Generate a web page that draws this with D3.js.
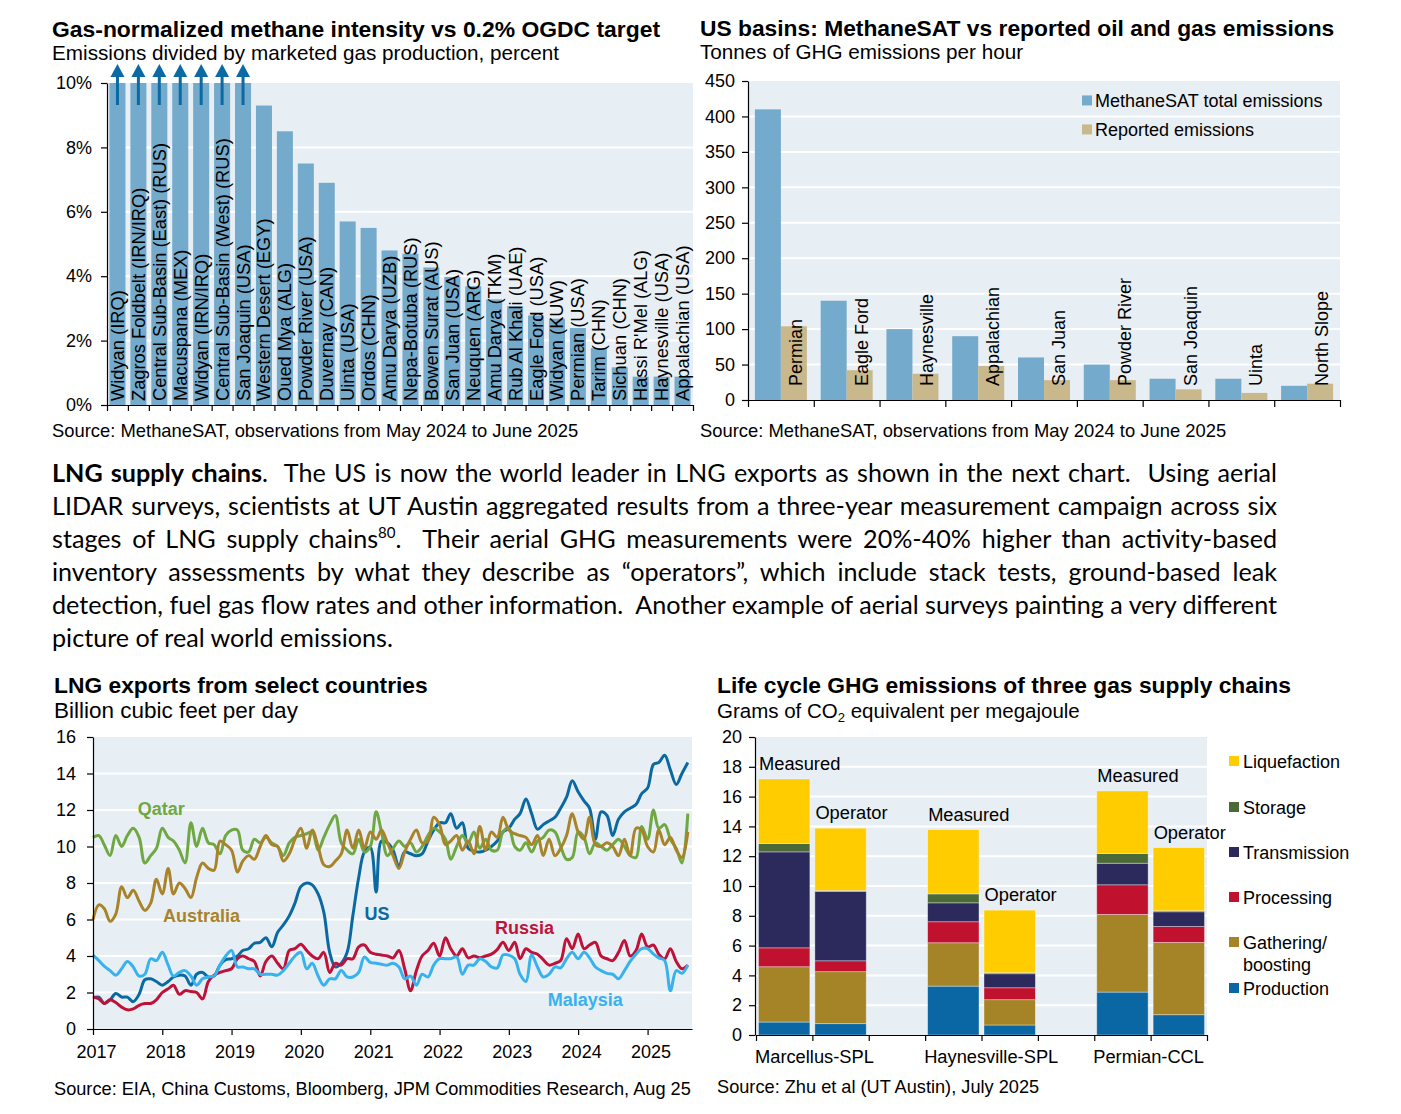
<!DOCTYPE html>
<html><head><meta charset="utf-8">
<script src="https://cdn.jsdelivr.net/npm/d3@7"></script>
<style>
body{margin:0;background:#fff;}
svg{display:block;}
text{font-family:"Liberation Sans",Arial,sans-serif;}
.para{font-family:Lato,"Open Sans",sans-serif;white-space:pre;}
</style></head><body>
<svg id="c" width="1401" height="1114"></svg>
<script>
// ---------------- DATA ----------------
// Chart 1: gas-normalized methane intensity (%), first seven are above the 10% axis cap
const basins1 = ["Widyan (IRQ)","Zagros Foldbelt (IRN/IRQ)","Central Sub-Basin (East) (RUS)","Macuspana (MEX)","Widyan (IRN/IRQ)","Central Sub-Basin (West) (RUS)","San Joaquin (USA)","Western Desert (EGY)","Oued Mya (ALG)","Powder River (USA)","Duvernay (CAN)","Uinta (USA)","Ordos (CHN)","Amu Darya (UZB)","Nepa-Botuba (RUS)","Bowen Surat (AUS)","San Juan (USA)","Neuquen (ARG)","Amu Darya (TKM)","Rub Al Khali (UAE)","Eagle Ford (USA)","Widyan (KUW)","Permian (USA)","Tarim (CHN)","Sichuan (CHN)","Hassi R'Mel (ALG)","Haynesville (USA)","Appalachian (USA)"];
const intensity = [10,10,10,10,10,10,10,9.3,8.5,7.5,6.9,5.7,5.5,4.8,4.7,4.27,3.98,3.69,3.28,3.07,2.78,2.68,2.39,1.77,1.17,0.88,0.88,0.88];
const aboveCap = [true,true,true,true,true,true,true,false,false,false,false,false,false,false,false,false,false,false,false,false,false,false,false,false,false,false,false,false];
const pctTicks = [0,2,4,6,8,10];

// Chart 2: US basins, tonnes GHG per hour
const usBasins = ["Permian","Eagle Ford","Haynesville","Appalachian","San Juan","Powder River","San Joaquin","Uinta","North Slope"];
const methaneSAT = [410,140,100,90,60,50,30,30,20];
const reported = [104,42,37,48,28,28,15,10,23];
const tphTicks = [0,50,100,150,200,250,300,350,400,450];

// Chart 3: LNG exports, Bcf/d, monthly Jan 2017 - Aug 2025
const lngYears = [2017,2018,2019,2020,2021,2022,2023,2024,2025];
const bcfTicks = [0,2,4,6,8,10,12,14,16];
const qatar = [10.5,10.6,10.1,9.5,10.6,10.0,10.6,11.0,10.5,9.1,9.5,9.9,
 11.0,10.5,10.3,9.8,9.1,11.3,10.0,11.0,10.2,10.1,9.6,10.6,
 10.9,10.9,9.8,9.7,10.4,10.2,10.5,10.2,10.0,9.5,10.2,10.5,
 10.6,10.7,10.8,9.8,10.5,11.2,11.7,10.2,9.8,9.6,10.4,9.7,
 10.0,11.9,10.8,9.5,9.9,10.3,10.0,10.2,9.7,10.0,10.6,11.0,
 10.8,10.4,9.3,10.0,10.6,10.2,10.8,9.9,10.4,9.8,9.8,10.8,
 11.0,10.0,9.8,10.2,9.7,10.3,10.5,10.9,10.8,10.0,9.3,9.4,
 10.8,10.5,9.6,10.2,10.0,9.8,10.1,10.4,10.0,9.5,9.4,11.1,
 10.4,12.0,11.0,11.2,10.4,9.9,9.1,11.8];
const australia = [6.0,6.8,6.6,5.9,6.3,7.8,7.2,7.6,7.0,6.5,6.9,8.2,
 7.4,8.8,7.4,8.0,7.7,7.2,8.3,9.1,8.8,8.7,10.3,10.1,
 9.8,8.6,9.2,9.5,9.3,10.0,10.6,10.1,10.0,9.2,9.6,10.4,
 11.0,9.9,10.9,10.0,9.0,8.9,9.2,9.6,10.9,9.9,10.9,9.9,
 10.8,10.4,10.9,10.2,9.5,8.8,9.7,10.4,10.9,10.2,10.3,11.6,
 11.2,10.1,10.3,10.6,9.8,10.3,9.6,11.1,9.8,10.8,10.5,11.6,
 10.9,10.7,10.6,10.5,10.1,10.6,9.5,10.4,9.5,9.9,10.6,11.8,
 10.8,10.4,11.6,10.1,10.0,10.2,10.0,9.5,10.4,9.5,11.0,10.9,
 10.0,9.7,10.9,10.1,10.5,9.8,9.4,10.8];
const us = [1.7,1.75,1.4,1.6,1.95,1.75,1.75,1.5,1.9,2.7,2.75,2.6,
 2.4,2.6,2.85,2.95,2.9,2.4,3.0,3.1,2.85,2.9,3.5,3.8,
 3.85,4.0,4.3,4.4,4.7,4.75,5.0,4.5,5.3,5.7,6.2,6.9,
 7.8,8.0,7.9,7.4,6.4,4.2,3.4,3.6,4.2,6.2,8.3,9.7,
 9.95,7.5,10.3,10.2,9.8,8.9,9.7,9.6,9.5,9.6,10.3,10.9,
 11.3,11.3,11.8,11.0,11.3,9.9,9.75,9.7,9.8,10.0,10.3,10.8,
 11.0,11.5,11.8,12.6,11.8,10.95,11.2,11.4,11.6,12.1,12.7,13.6,
 13.0,12.5,12.1,10.4,11.9,11.7,10.6,11.5,11.9,12.1,12.3,12.9,
 13.2,14.5,14.6,15.0,14.2,13.4,14.0,14.6];
const russia = [1.75,1.65,1.4,1.6,1.45,1.2,1.05,1.1,1.3,1.4,1.4,1.6,
 2.0,2.2,2.4,1.9,2.1,2.05,2.0,1.65,2.6,2.95,3.1,3.2,
 3.3,3.85,4.0,3.85,3.7,2.9,3.7,4.0,3.6,3.3,4.3,4.4,
 4.65,4.3,4.0,3.85,4.2,3.1,3.6,3.5,3.85,3.85,4.5,4.6,
 4.2,4.1,4.05,4.0,3.9,4.3,3.3,2.1,3.2,4.0,4.3,4.7,
 4.0,5.0,4.4,4.0,4.4,3.9,4.0,3.9,4.0,4.1,4.35,4.75,
 4.3,4.75,3.85,4.4,4.2,4.1,3.8,3.5,3.6,3.75,4.95,4.4,
 5.2,4.4,4.6,4.75,4.0,3.85,3.75,4.2,4.85,4.0,4.3,5.2,
 4.5,4.6,4.1,3.85,4.4,3.7,3.3,3.5];
const malaysia = [4.05,3.75,3.45,3.2,2.95,3.3,3.7,3.4,2.9,3.0,3.85,3.75,
 4.2,3.5,2.9,3.1,3.2,2.9,2.4,2.75,2.85,2.9,3.5,4.0,
 4.3,3.4,3.4,3.3,3.3,3.0,3.0,3.0,2.95,3.2,3.6,4.0,
 4.2,3.3,3.6,2.9,2.4,2.75,2.75,3.2,2.85,2.85,3.1,3.95,
 3.65,3.6,3.55,3.5,3.6,3.4,2.75,2.9,2.4,3.0,2.85,3.5,
 3.85,3.85,3.85,3.95,3.0,3.5,3.5,3.85,3.7,3.4,3.35,4.05,
 4.05,3.85,3.0,2.6,4.05,3.4,2.85,3.0,3.4,3.35,3.85,4.2,
 3.85,4.2,3.9,3.4,3.2,3.05,3.0,2.75,3.2,3.7,4.1,4.4,
 4.4,4.1,3.9,3.75,2.1,3.2,3.05,3.5];

// Chart 4: life cycle GHG, g CO2e/MJ; bars: Marcellus Meas/Op, Haynesville Meas/Op, Permian Meas/Op
const chains = ["Marcellus-SPL","Haynesville-SPL","Permian-CCL"];
const methods = ["Measured","Operator"];
const stages = ["Production","Gathering/ boosting","Processing","Transmission","Storage","Liquefaction"];
const production   = [0.87,0.76,3.28,0.67,2.88,1.36];
const gathering    = [3.71,3.49,2.91,1.70,5.21,4.85];
const processing   = [1.27,0.73,1.41,0.80,1.99,1.07];
const transmission = [6.44,4.65,1.27,0.94,1.45,0.99];
const storage      = [0.56,0.07,0.60,0.07,0.65,0.07];
const liquefaction = [4.33,4.18,4.32,4.20,4.20,4.24];
const gTicks = [0,2,4,6,8,10,12,14,16,18,20];

// ---------------- DRAWING ----------------
const svg = d3.select("#c");
const BG = "#E7EEF4", FONT = '"Liberation Sans", Arial, sans-serif';
const BAR = "#74AACB", TAN = "#C9B88C";

function txt(g, x, y, s, o = {}) {
  return g.append("text").attr("x", x).attr("y", y).text(s)
    .attr("font-size", o.size || 18).attr("font-weight", o.bold ? "bold" : null)
    .attr("fill", o.fill || "#000").attr("text-anchor", o.anchor || "start");
}
function styleAxis(g, size) {
  g.attr("font-size", size || 18).attr("font-family", FONT);
  g.selectAll("path.domain").attr("stroke", "#000").attr("stroke-width", 1.2);
  g.selectAll(".tick line").attr("stroke", "#000").attr("stroke-width", 1.2);
  g.selectAll(".tick text").attr("fill", "#000");
}
function grid(g, yScale, vals, x0, x1) {
  g.selectAll(null).data(vals).join("line")
    .attr("x1", x0).attr("x2", x1).attr("y1", d => yScale(d)).attr("y2", d => yScale(d))
    .attr("stroke", "#fff").attr("stroke-width", 2);
}

// ===== Chart 1 =====
(function(){
  const g = svg.append("g");
  const L = 107, R = 693, T = 83, B = 405;
  txt(g, 52, 37, "Gas-normalized methane intensity vs 0.2% OGDC target", {size: 22.9, bold: true});
  txt(g, 52, 60, "Emissions divided by marketed gas production, percent", {size: 20.7});
  const y = d3.scaleLinear().domain([0, 10]).range([B, T]);
  const x = d3.scaleBand().domain(basins1).range([L, R]).paddingInner(0.235).paddingOuter(0.1175);
  g.append("rect").attr("x", L).attr("y", T).attr("width", R - L).attr("height", B - T).attr("fill", BG);
  grid(g, y, [2, 4, 6, 8], L, R);
  g.selectAll(null).data(basins1).join("rect")
    .attr("x", d => x(d)).attr("width", x.bandwidth())
    .attr("y", (d, i) => y(Math.min(intensity[i], 10))).attr("height", (d, i) => y(0) - y(Math.min(intensity[i], 10)))
    .attr("fill", BAR);
  g.selectAll(null).data(basins1).join("text")
    .attr("transform", d => `translate(${x(d) + x.bandwidth() / 2 + 6.5},${y(0) - 4}) rotate(-90)`)
    .attr("font-size", 18.3).text(d => d);
  // arrows for values above the axis cap
  const ag = g.append("g").attr("fill", "#0B6AA3").attr("stroke", "#0B6AA3");
  basins1.forEach((d, i) => {
    if (!aboveCap[i]) return;
    const cx = x(d) + x.bandwidth() / 2;
    ag.append("line").attr("x1", cx).attr("x2", cx).attr("y1", y(10) + 22).attr("y2", y(10) - 8).attr("stroke-width", 3);
    ag.append("path").attr("stroke", "none")
      .attr("d", `M${cx},${y(10) - 19}L${cx - 7},${y(10) - 6}L${cx + 7},${y(10) - 6}Z`);
  });
  const ya = g.append("g").attr("transform", `translate(${L},0)`)
    .call(d3.axisLeft(y).tickValues(pctTicks).tickFormat(d => d + "%").tickSize(6).tickSizeOuter(0).tickPadding(9));
  styleAxis(ya);
  const xi = d3.scaleLinear().domain([0, basins1.length]).range([L, R]);
  const xa = g.append("g").attr("transform", `translate(0,${B})`)
    .call(d3.axisBottom(xi).tickValues(d3.range(basins1.length + 1)).tickFormat("").tickSize(6).tickSizeOuter(0));
  styleAxis(xa);
  txt(g, 52, 437, "Source: MethaneSAT, observations from May 2024 to June 2025", {size: 18.4});
})();

// ===== Chart 2 =====
(function(){
  const g = svg.append("g");
  const L = 748, R = 1340, T = 81, B = 400;
  txt(g, 700, 36, "US basins: MethaneSAT vs reported oil and gas emissions", {size: 22.8, bold: true});
  txt(g, 700, 59, "Tonnes of GHG emissions per hour", {size: 20.7});
  const y = d3.scaleLinear().domain([0, 450]).range([B, T]);
  const x = d3.scaleBand().domain(usBasins).range([L, R]);
  const xs = d3.scaleBand().domain(["sat", "rep"]).range([0, x.bandwidth()]).paddingOuter(0.265);
  g.append("rect").attr("x", L).attr("y", T).attr("width", R - L).attr("height", B - T).attr("fill", BG);
  grid(g, y, tphTicks.slice(1, -1), L, R);
  g.selectAll(null).data(usBasins).join("rect")
    .attr("x", d => x(d) + xs("sat")).attr("width", xs.bandwidth())
    .attr("y", (d, i) => y(methaneSAT[i])).attr("height", (d, i) => y(0) - y(methaneSAT[i])).attr("fill", BAR);
  g.selectAll(null).data(usBasins).join("rect")
    .attr("x", d => x(d) + xs("rep")).attr("width", xs.bandwidth())
    .attr("y", (d, i) => y(reported[i])).attr("height", (d, i) => y(0) - y(reported[i])).attr("fill", TAN);
  g.selectAll(null).data(usBasins).join("text")
    .attr("transform", d => `translate(${x(d) + xs("rep") + xs.bandwidth() / 2 + 8},${y(0) - 14}) rotate(-90)`)
    .attr("font-size", 18).text(d => d);
  const ya = g.append("g").attr("transform", `translate(${L},0)`)
    .call(d3.axisLeft(y).tickValues(tphTicks).tickSize(6).tickSizeOuter(0).tickPadding(7));
  styleAxis(ya);
  const xi = d3.scaleLinear().domain([0, usBasins.length]).range([L, R]);
  const xa = g.append("g").attr("transform", `translate(0,${B})`)
    .call(d3.axisBottom(xi).tickValues(d3.range(usBasins.length + 1)).tickFormat("").tickSize(7).tickSizeOuter(0));
  styleAxis(xa);
  // legend
  const leg = [["MethaneSAT total emissions", BAR], ["Reported emissions", TAN]];
  leg.forEach((d, i) => {
    const cy = y(400) - 16 + i * 29;
    g.append("rect").attr("x", 1082).attr("y", cy - 5).attr("width", 10).attr("height", 10).attr("fill", d[1]);
    txt(g, 1095, cy + 6.5, d[0], {size: 18});
  });
  txt(g, 700, 437, "Source: MethaneSAT, observations from May 2024 to June 2025", {size: 18.4});
})();

// ===== Paragraph =====
(function(){
  const g = svg.append("g").attr("class", "para");
  const X0 = 52, WID = 1225, B0 = 482, LH = 33;
  const lines = [
    [{t: "LNG supply chains", b: 1}, {t: ".  The US is now the world leader in LNG exports as shown in the next chart.  Using aerial"}],
    [{t: "LIDAR surveys, scientists at UT Austin aggregated results from a three-year measurement campaign across six"}],
    [{t: "stages of LNG supply chains"}, {t: "80", sup: 1}, {t: ".  Their aerial GHG measurements were 20%-40% higher than activity-based"}],
    [{t: "inventory assessments by what they describe as \u201coperators\u201d, which include stack tests, ground-based leak"}],
    [{t: "detection, fuel gas flow rates and other information.  Another example of aerial surveys painting a very different"}],
    [{t: "picture of real world emissions."}]
  ];
  // calibrate font size on the tight (un-stretched) fifth line
  const probe = g.append("text").attr("class", "para").attr("font-size", 22).text(lines[4][0].t);
  const fs = 22 * WID / probe.node().getComputedTextLength();
  probe.remove();
  lines.forEach((segs, i) => {
    const t = g.append("text").attr("class", "para").attr("x", X0).attr("y", B0 + i * LH)
      .attr("font-size", fs).attr("fill", "#000");
    segs.forEach((s, k) => {
      const ts = t.append("tspan").text(s.t);
      if (s.b) ts.attr("font-weight", "bold");
      if (s.sup) ts.attr("font-size", fs * 0.6).attr("dy", -fs * 0.38);
      else if (k > 0 && segs[k - 1].sup) ts.attr("dy", fs * 0.38);
    });
    if (i < lines.length - 1) {
      const w = t.node().getComputedTextLength();
      const n = segs.map(s => s.t).join("").split(" ").length - 1;
      t.style("word-spacing", ((WID - w) / n) + "px");
    }
  });
})();

// ===== Chart 3 =====
(function(){
  const g = svg.append("g");
  const L = 93, R = 692, T = 737, B = 1029;
  txt(g, 54, 693, "LNG exports from select countries", {size: 22.8, bold: true});
  txt(g, 54, 718, "Billion cubic feet per day", {size: 22.5});
  const y = d3.scaleLinear().domain([0, 16]).range([B, T]);
  const x = d3.scaleTime().domain([new Date(2017, 0, 1), new Date(2025, 7, 23)]).range([L, R]);
  const months = d3.range(qatar.length).map(i => new Date(2017, i, 1));
  g.append("rect").attr("x", L).attr("y", T).attr("width", R - L).attr("height", B - T).attr("fill", BG);
  grid(g, y, bcfTicks.slice(1, -1), L, R);
  const series = [
    {name: "US", v: us, c: "#0B69A1", lab: [new Date(2020, 11, 1), 6.0]},
    {name: "Qatar", v: qatar, c: "#6FA842", lab: [new Date(2017, 7, 25), 11.7]},
    {name: "Australia", v: australia, c: "#A8832A", lab: [new Date(2018, 0, 5), 5.85]},
    {name: "Russia", v: russia, c: "#BE1238", lab: [new Date(2022, 9, 20), 5.2]},
    {name: "Malaysia", v: malaysia, c: "#38B2EE", lab: [new Date(2023, 6, 25), 1.25]}
  ];
  const line = d3.line().x((d, i) => x(months[i])).y(d => y(d)).curve(d3.curveCatmullRom.alpha(0.5));
  const order = ["US", "Qatar", "Australia", "Russia", "Malaysia"];
  order.forEach(n => {
    const s = series.find(z => z.name === n);
    g.append("path").attr("d", line(s.v)).attr("fill", "none").attr("stroke", s.c).attr("stroke-width", 3)
      .attr("stroke-linejoin", "round");
  });
  series.forEach(s => txt(g, x(s.lab[0]), y(s.lab[1]), s.name, {size: 18, bold: true, fill: s.c}));
  const ya = g.append("g").attr("transform", `translate(${L},0)`)
    .call(d3.axisLeft(y).tickValues(bcfTicks).tickSize(6).tickSizeOuter(0).tickPadding(11));
  styleAxis(ya);
  const xa = g.append("g").attr("transform", `translate(0,${B})`)
    .call(d3.axisBottom(x).tickValues(lngYears.map(yy => new Date(yy, 0, 1))).tickFormat(d3.timeFormat("%Y")).tickSize(6).tickSizeOuter(0).tickPadding(10));
  styleAxis(xa);
  xa.selectAll(".tick text").attr("dx", 3);
  txt(g, 54, 1095, "Source: EIA, China Customs, Bloomberg, JPM Commodities Research, Aug 25", {size: 18.2});
})();

// ===== Chart 4 =====
(function(){
  const g = svg.append("g");
  const L = 755, R = 1207, T = 737, B = 1035;
  txt(g, 717, 693, "Life cycle GHG emissions of three gas supply chains", {size: 22.8, bold: true});
  const sub = txt(g, 717, 718, "Grams of CO", {size: 20.5});
  sub.append("tspan").text("2").attr("font-size", 13).attr("dy", 4);
  sub.append("tspan").text(" equivalent per megajoule").attr("dy", -4);
  const y = d3.scaleLinear().domain([0, 20]).range([B, T]);
  // 8 slots: 3 chains x (Measured, Operator, gap), last gap dropped
  const slots = [];
  chains.forEach((c, ci) => { methods.forEach(m => slots.push(c + "|" + m)); if (ci < chains.length - 1) slots.push("gap" + ci); });
  const xs = d3.scaleBand().domain(slots).range([L + 1, R]);
  const bars = [];
  chains.forEach(c => methods.forEach(m => bars.push({key: c + "|" + m, chain: c, method: m})));
  const vals = [production, gathering, processing, transmission, storage, liquefaction];
  const rows = bars.map((b, i) => { const r = {key: b.key}; stages.forEach((s, k) => r[s] = vals[k][i]); return r; });
  const stack = d3.stack().keys(stages)(rows);
  const colors = {"Production": "#0A67A3", "Gathering/ boosting": "#A58427", "Processing": "#C0112F",
    "Transmission": "#2C295C", "Storage": "#4B6A38", "Liquefaction": "#FFCC00"};
  g.append("rect").attr("x", L).attr("y", T).attr("width", R - L).attr("height", B - T).attr("fill", BG);
  grid(g, y, gTicks.slice(1, -1), L, R);
  stack.forEach(layer => {
    g.selectAll(null).data(layer).join("rect")
      .attr("x", d => xs(d.data.key) + 2.5).attr("width", xs.bandwidth() - 5)
      .attr("y", d => y(d[1])).attr("height", d => y(d[0]) - y(d[1]))
      .attr("fill", colors[layer.key]).attr("stroke", "#ffffff").attr("stroke-opacity", 0.45).attr("stroke-width", 0.8);
  });
  const top = stack[stack.length - 1];
  top.forEach(d => txt(g, xs(d.data.key) + 3, y(d[1]) - 9, d.data.key.split("|")[1], {size: 18.3}));
  const ya = g.append("g").attr("transform", `translate(${L},0)`)
    .call(d3.axisLeft(y).tickValues(gTicks).tickSize(6).tickSizeOuter(0).tickPadding(7));
  styleAxis(ya);
  const xi = d3.scaleLinear().domain([0, slots.length]).range([L + 1, R]);
  const xa = g.append("g").attr("transform", `translate(0,${B})`)
    .call(d3.axisBottom(xi).tickValues(d3.range(slots.length + 1)).tickFormat("").tickSize(6).tickSizeOuter(0));
  styleAxis(xa);
  chains.forEach(c => txt(g, xs(c + "|Measured") - 1, 1063, c, {size: 18.3}));
  // legend, top to bottom
  const legOrder = stages.slice().reverse();
  const legY = [761, 807, 852, 897, 942, 988];
  legOrder.forEach((s, i) => {
    g.append("rect").attr("x", 1229).attr("y", legY[i] - 5).attr("width", 10).attr("height", 10).attr("fill", colors[s]);
    const parts = s.split(" ");
    const t = txt(g, 1243, legY[i] + 6.5, parts[0], {size: 18});
    if (parts.length > 1) t.append("tspan").attr("x", 1243).attr("dy", 22).text(parts[1]);
  });
  txt(g, 717, 1093, "Source: Zhu et al (UT Austin), July 2025", {size: 18.2});
})();
</script></body></html>
